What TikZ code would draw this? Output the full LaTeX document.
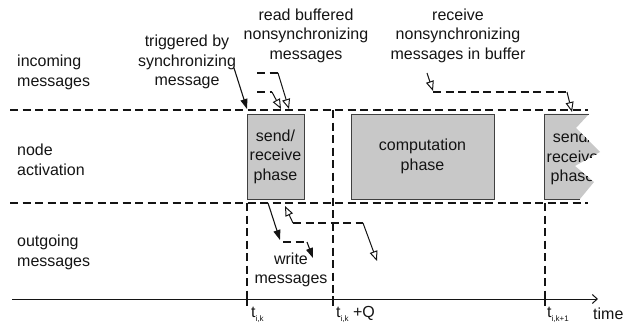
\documentclass[tikz,border=0pt]{standalone}
\usepackage{fontspec}
\setmainfont{Liberation Sans}
\usetikzlibrary{arrows.meta}
\definecolor{boxgray}{RGB}{200,200,200}
\definecolor{inkc}{RGB}{20,20,20}
\begin{document}
\begin{tikzpicture}[x=1pt,y=-1pt,
  font=\fontsize{16}{19.5}\selectfont,
  rowline/.style={line width=1.9pt, dash pattern=on 8pt off 4.5pt, inkc},
  phasebox/.style={draw=black!75, line width=0.8pt, fill=boxgray, inner sep=0pt,
    minimum height=85pt, align=center, text=inkc},
  lbl/.style={align=center, text=inkc, inner sep=0pt},
  lblleft/.style={align=left, text=inkc, inner sep=0pt, anchor=west},
  filledarrow/.style={line width=1.1pt, inkc, -{Triangle[length=10pt,width=7pt]}},
  openarrow/.style={line width=1pt, inkc, -{Triangle[open,length=10pt,width=8pt,fill=white]}},
  dashseg/.style={line width=1.9pt, dash pattern=on 8pt off 4.5pt, inkc},
  tick/.style={line width=1.2pt, inkc}]
\useasboundingbox (0,0) rectangle (623,326);

% row labels
\node[lblleft] (inc)  at (17,72.5) {incoming\\messages};
\node[lblleft] (act)  at (17,160)  {node\\activation};
\node[lblleft] (outg) at (17,252.5){outgoing\\messages};

% phase boxes
\node[phasebox, minimum width=57pt]  (sr1)  at (275.5,156.5) {send/\\receive\\phase};
\node[phasebox, minimum width=143pt] (comp) at (422.5,156.5) {computation\\phase};

% next send/receive phase, torn on the right
\path[fill=boxgray] (544,114) -- (589,114) -- (576,128) -- (600,152) -- (575,166)
  -- (594,182) -- (580,199) -- (544,199) -- cycle;
\begin{scope}
  \clip (544,114) -- (589,114) -- (576,128) -- (600,152) -- (575,166)
    -- (594,182) -- (580,199) -- (544,199) -- cycle;
  \node[lbl] (sr2) at (572.5,158) {send/\\receive\\phase};
\end{scope}
\draw[draw=black!75, line width=0.8pt] (589,114) -- (544,114) -- (544,199) -- (580,199);

% row separators and time axis
\coordinate (inL) at (10,110);  \coordinate (inR) at (588,110);
\coordinate (outL) at (10,203); \coordinate (outR) at (588,203);
\coordinate (axL) at (12,299);  \coordinate (axR) at (598,299);
\draw[rowline] (inL) -- (inR);
\draw[rowline] (outL) -- (outR);
\draw[line width=1pt, inkc, -{Straight Barb[length=5pt,width=9pt]}] (axL) -- (axR);

% instants on the axis
\coordinate (tk0) at (247,299); \coordinate (tq) at (333,299); \coordinate (tk1) at (545,299);
\coordinate (tk0top) at (247,203); \coordinate (tqtop) at (333,110); \coordinate (tk1top) at (545,203);
\draw[rowline] (tk0top) -- (tk0);
\draw[rowline] (tqtop) -- (tq);
\draw[rowline] (tk1top) -- (tk1);
\draw[tick] (247,296) -- (247,306);
\draw[tick] (333,296) -- (333,306);
\draw[tick] (545,296) -- (545,306);

\node[anchor=base west, inner sep=0pt, text=inkc] (ltk0) at (251,317)
  {t\raisebox{-4pt}{\fontsize{8}{8}\selectfont i,k}};
\node[anchor=base west, inner sep=0pt, text=inkc] (ltq) at (336,317)
  {t\raisebox{-4pt}{\fontsize{8}{8}\selectfont i,k} +Q};
\node[anchor=base west, inner sep=0pt, text=inkc] (ltk1) at (547,317)
  {t\raisebox{-4pt}{\fontsize{8}{8}\selectfont i,k+1}};
\node[anchor=base west, inner sep=0pt, text=inkc] (time) at (593,319) {time};

% annotations
\node[lbl] (trig)    at (187,62)  {triggered by\\synchronizing\\message};
\node[lbl] (readbuf) at (306,35.5){read buffered\\nonsynchronizing\\messages};
\node[lbl] (recvbuf) at (458,35.5){receive\\nonsynchronizing\\messages in buffer};
\node[lbl] (write)   at (291,270) {write\\messages};

% synchronizing message triggers the phase
\coordinate (trigS) at (234,68); \coordinate (trigE) at (247,109);
\draw[filledarrow] (trigS) -- (trigE);

% buffered messages read at the phase start
\coordinate (ru0) at (257,73); \coordinate (ru1) at (278,73); \coordinate (ru2) at (289,109);
\coordinate (rl0) at (257,92); \coordinate (rl1) at (272,92); \coordinate (rl2) at (281,109);
\draw[dashseg] (ru0) -- (ru1);
\draw[openarrow] (ru1) -- (ru2);
\draw[dashseg] (rl0) -- (rl1);
\draw[openarrow] (rl1) -- (rl2);

% messages received into the buffer
\coordinate (rv0) at (427,73); \coordinate (rv1) at (433,91);
\coordinate (rv1b) at (433,92);
\coordinate (rv2) at (567,92); \coordinate (rv3) at (572,112);
\draw[openarrow] (rv0) -- (rv1);
\draw[dashseg] (rv1b) -- (rv2);
\draw[openarrow] (rv2) -- (rv3);

% messages written during the send/receive phase
\coordinate (w0) at (268,203); \coordinate (w1) at (280,240);
\coordinate (w2) at (283,242); \coordinate (w3) at (307,242); \coordinate (w4) at (313,258);
\draw[filledarrow] (w0) -- (w1);
\draw[dashseg] (w2) -- (w3);
\draw[filledarrow] (w3) -- (w4);

% outgoing message path
\coordinate (o0) at (293,223); \coordinate (o1) at (285,206);
\coordinate (o2) at (363,223); \coordinate (o3) at (377,261);
\draw[openarrow] (o0) -- (o1);
\draw[dashseg] (o0) -- (o2);
\draw[openarrow] (o2) -- (o3);
\end{tikzpicture}
\end{document}
